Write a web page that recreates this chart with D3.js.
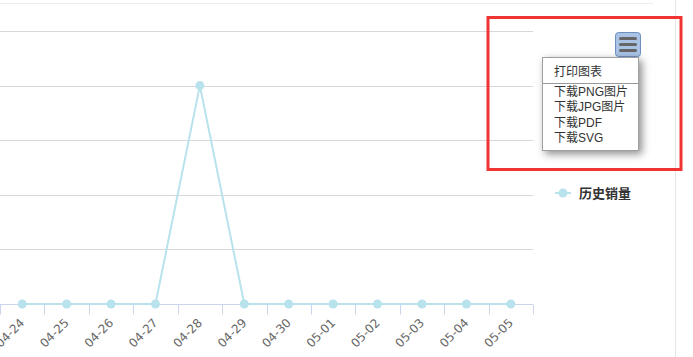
<!DOCTYPE html>
<html>
<head>
<meta charset="utf-8">
<script src="https://cdn.jsdelivr.net/npm/d3@7"></script>
<style>
  body { margin: 0; background: #fff; overflow: hidden; }
  .wrap { position: relative; width: 693px; height: 357px; }
  svg { position: absolute; left: 0; top: 0; }
  .menu {
    position: absolute; left: 542px; top: 57px; width: 95px; height: 92px;
    background: #fff; border: 1px solid #a0a0a0;
    box-shadow: 3px 3px 8px rgba(0,0,0,0.45);
    font-family: "Liberation Sans", Arial, "Noto Sans CJK SC", sans-serif;
    font-size: 12px; color: #333;
  }
  .menu div { padding-left: 11px; line-height: 15.5px; }
  .menu hr { border: none; border-top: 1px solid #999; margin: 2px 0 1px 0; }
</style>
</head>
<body>
<div class="wrap" id="wrap"></div>
<script>
// data
const categories = ["04-24", "04-25", "04-26", "04-27", "04-28", "04-29",
  "04-30", "05-01", "05-02", "05-03", "05-04", "05-05"];
const sales = [0, 0, 0, 0, 4, 0, 0, 0, 0, 0, 0, 0];
const yTicks = [0, 1, 2, 3, 4, 5];
const seriesName = "历史销量";
const menuItems = ["打印图表", "下载PNG图片", "下载JPG图片", "下载PDF", "下载SVG"];

const W = 693, H = 357;
const lineColor = "#b8e2ec";
const font = "'DejaVu Sans', 'Noto Sans CJK SC', sans-serif";

const wrap = d3.select("#wrap");
const svg = wrap.append("svg").attr("width", W).attr("height", H);

// page borders
svg.append("line").attr("x1", 0).attr("x2", 653).attr("y1", 3.5).attr("y2", 3.5)
  .attr("stroke", "#ececec");
svg.append("line").attr("x1", 675.5).attr("x2", 675.5).attr("y1", 0).attr("y2", H)
  .attr("stroke", "#e6e6e6");

const x = d3.scaleBand().domain(categories).range([0, 533]);
const y = d3.scaleLinear().domain([0, 5]).range([304, 31]);

// grid
svg.append("g")
  .selectAll("line")
  .data(yTicks.slice(1))
  .enter()
  .append("line")
  .attr("x1", 0)
  .attr("x2", 533)
  .attr("y1", (d) => Math.round(y(d)) + 0.5)
  .attr("y2", (d) => Math.round(y(d)) + 0.5)
  .attr("stroke", "#d8d8d8");

// x axis
const xAxis = svg.append("g").attr("transform", "translate(0,304.5)");
xAxis.append("line").attr("x1", 0).attr("x2", 533).attr("stroke", "#ccd6eb");
xAxis.selectAll(".tick")
  .data(categories.map((c) => x(c)).concat([533]))
  .enter()
  .append("line")
  .attr("x1", (d) => Math.round(d) + 0.5)
  .attr("x2", (d) => Math.round(d) + 0.5)
  .attr("y1", 0)
  .attr("y2", 10)
  .attr("stroke", "#ccd6eb");
xAxis.selectAll("text")
  .data(categories)
  .enter()
  .append("text")
  .attr("text-anchor", "end")
  .attr("transform", (d) => "translate(" + (x(d) + x.bandwidth() / 2 + 3) + ",19) rotate(-45)")
  .attr("font-family", font)
  .attr("font-size", 12)
  .attr("fill", "#666")
  .text((d) => d);

// series
const cx = (d, i) => x(categories[i]) + x.bandwidth() / 2;
svg.append("path")
  .datum(sales)
  .attr("fill", "none")
  .attr("stroke", lineColor)
  .attr("stroke-width", 2)
  .attr("d", d3.line().x(cx).y((d) => y(d)));
svg.append("g")
  .selectAll("circle")
  .data(sales)
  .enter()
  .append("circle")
  .attr("cx", cx)
  .attr("cy", (d) => y(d))
  .attr("r", 4.5)
  .attr("fill", lineColor);

// legend
const lg = svg.append("g").attr("transform", "translate(555,193)");
lg.append("line").attr("x1", 0).attr("x2", 16).attr("stroke", lineColor).attr("stroke-width", 2);
lg.append("circle").attr("cx", 8).attr("r", 4.5).attr("fill", lineColor);
lg.append("text")
  .attr("x", 24)
  .attr("y", 5)
  .attr("font-family", "'Noto Sans CJK SC', sans-serif")
  .attr("font-size", 13)
  .attr("font-weight", "bold")
  .attr("fill", "#333")
  .text(seriesName);

// export button
const btn = svg.append("g").attr("transform", "translate(615.5,32.5)");
btn.append("rect").attr("width", 25).attr("height", 24).attr("rx", 3)
  .attr("fill", "#a9c3e6").attr("stroke", "#6e8fbf");
[6, 12, 18].forEach((yy) => {
  btn.append("line").attr("x1", 5).attr("x2", 20).attr("y1", yy).attr("y2", yy)
    .attr("stroke", "#666").attr("stroke-width", 3).attr("stroke-linecap", "round");
});

// red highlight box
svg.append("rect")
  .attr("x", 488).attr("y", 17.5).attr("width", 193).attr("height", 152)
  .attr("fill", "none").attr("stroke", "#f03434").attr("stroke-width", 3);

// export menu
const menu = wrap.append("div").attr("class", "menu");
menu.append("div").style("margin-top", "7px").text(menuItems[0]);
menu.append("hr");
menuItems.slice(1).forEach((t) => menu.append("div").text(t));
</script>
</body>
</html>
